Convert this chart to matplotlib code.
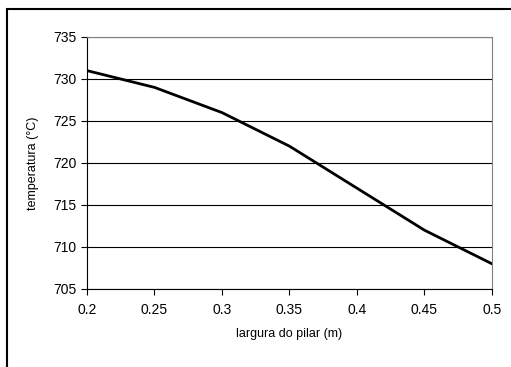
import matplotlib
matplotlib.use('Agg')
import matplotlib.pyplot as plt
from matplotlib.patches import Rectangle

# data
largura = [0.2, 0.25, 0.3, 0.35, 0.4, 0.45, 0.5]
temperatura = [731, 729, 726, 722, 717, 712, 708]
y_ticks = [705, 710, 715, 720, 725, 730, 735]
x_ticks = [0.2, 0.25, 0.3, 0.35, 0.4, 0.45, 0.5]

W, H = 511, 367
fig = plt.figure(figsize=(W / 100, H / 100), dpi=100)
plt.rcParams['font.family'] = ['Liberation Sans', 'DejaVu Sans']

# outer frame of the chart area (cut off at right and bottom)
fig.patches.append(Rectangle((7 / W, -0.05), 1.1, 1 - 9 / H + 0.05,
                             transform=fig.transFigure, fill=False,
                             edgecolor='black', linewidth=1.5))

ax = fig.add_axes([87 / W, 1 - 289 / H, (492 - 87) / W, (289 - 37) / H])
ax.plot(largura, temperatura, color='black', linewidth=2)

ax.set_xlim(0.2, 0.5)
ax.set_ylim(705, 735)
ax.set_xticks(x_ticks)
ax.set_xticklabels([f'{v:g}' for v in x_ticks])
ax.set_yticks(y_ticks)

ax.yaxis.grid(True, color='black', linewidth=0.8)
ax.set_axisbelow(True)

for side in ['top', 'right']:
    ax.spines[side].set_color('#808080')
    ax.spines[side].set_linewidth(0.8)
for side in ['left', 'bottom']:
    ax.spines[side].set_color('black')
    ax.spines[side].set_linewidth(0.8)

ax.tick_params(axis='both', direction='out', length=4, width=0.8,
               labelsize=10, colors='black')
ax.tick_params(axis='x', pad=6)

ax.set_xlabel('largura do pilar (m)', fontsize=9, labelpad=8)
ax.set_ylabel('temperatura (°C)', fontsize=9, labelpad=10)

fig.savefig('out.png', dpi=100)
